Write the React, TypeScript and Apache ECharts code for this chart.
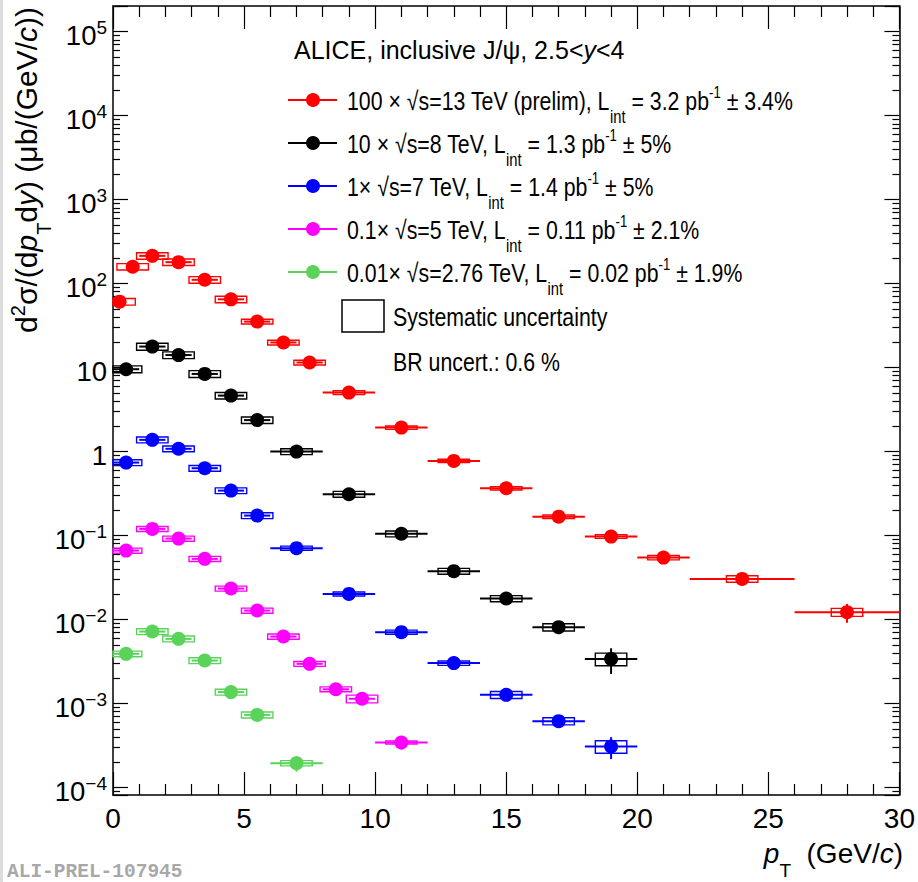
import React, { useEffect, useRef } from 'react';
import * as echarts from 'echarts';

const FONT = '"Liberation Sans", Arial, Helvetica, sans-serif';
const MONO = '"Liberation Mono", "DejaVu Sans Mono", monospace';

// ---------------- data ----------------
// 13 TeV (x100)
const redPt = [0.25, 0.75, 1.5, 2.5, 3.5, 4.5, 5.5, 6.5, 7.5, 9, 11, 13, 15, 17, 19, 21, 24, 28];
const redLo = [0, 0.5, 1, 2, 3, 4, 5, 6, 7, 8, 10, 12, 14, 16, 18, 20, 22, 26];
const redHi = [0.5, 1, 2, 3, 4, 5, 6, 7, 8, 10, 12, 14, 16, 18, 20, 22, 26, 30];
const redVal = [61, 159, 214, 180, 111, 65, 35.3, 19.9, 11.5, 5.04, 1.93, 0.774, 0.366, 0.168, 0.0973, 0.0547, 0.0305, 0.01225];
const redStat = [1.5, 3, 3, 2.5, 1.5, 0.9, 0.5, 0.3, 0.2, 0.08, 0.04, 0.02, 0.012, 0.007, 0.005, 0.0035, 0.0025, 0.0031];
const redSys = [5.5, 14, 19, 16, 10, 5.8, 2.3, 1.3, 0.75, 0.25, 0.09, 0.035, 0.017, 0.008, 0.0048, 0.0033, 0.0027, 0.00135];

// 8 TeV (x10)
const blackPt = [0.5, 1.5, 2.5, 3.5, 4.5, 5.5, 7, 9, 11, 13, 15, 17, 19];
const blackLo = [0, 1, 2, 3, 4, 5, 6, 8, 10, 12, 14, 16, 18];
const blackHi = [1, 2, 3, 4, 5, 6, 8, 10, 12, 14, 16, 18, 20];
const blackVal = [9.57, 17.8, 14.1, 8.41, 4.64, 2.37, 1.0, 0.311, 0.105, 0.0377, 0.0178, 0.00812, 0.0034];
const blackStat = [0.2, 0.3, 0.25, 0.15, 0.09, 0.05, 0.025, 0.009, 0.004, 0.002, 0.0012, 0.0007, 0.00115];
const blackSys = [0.9, 1.7, 1.3, 0.8, 0.42, 0.21, 0.08, 0.025, 0.0085, 0.003, 0.0015, 0.0008, 0.00058];

// 7 TeV (x1)
const bluePt = [0.5, 1.5, 2.5, 3.5, 4.5, 5.5, 7, 9, 11, 13, 15, 17, 19];
const blueLo = [0, 1, 2, 3, 4, 5, 6, 8, 10, 12, 14, 16, 18];
const blueHi = [1, 2, 3, 4, 5, 6, 8, 10, 12, 14, 16, 18, 20];
const blueVal = [0.74, 1.38, 1.08, 0.634, 0.343, 0.173, 0.0708, 0.0202, 0.00708, 0.00303, 0.00127, 0.000617, 0.000308];
const blueStat = [0.015, 0.025, 0.02, 0.013, 0.008, 0.005, 0.002, 0.0008, 0.0003, 0.00015, 0.00008, 0.00005, 0.00009];
const blueSys = [0.06, 0.11, 0.085, 0.05, 0.027, 0.014, 0.004, 0.0011, 0.0004, 0.00018, 0.00012, 0.00006, 0.000052];

// 5 TeV (x0.1)
const magPt = [0.5, 1.5, 2.5, 3.5, 4.5, 5.5, 6.5, 7.5, 8.5, 9.5, 11];
const magLo = [0, 1, 2, 3, 4, 5, 6, 7, 8, 9, 10];
const magHi = [1, 2, 3, 4, 5, 6, 7, 8, 9, 10, 12];
const magVal = [0.0663, 0.12, 0.0921, 0.0528, 0.0234, 0.0128, 0.00628, 0.00297, 0.00148, 0.00114, 0.000344];
const magStat = [0.002, 0.003, 0.0025, 0.0015, 0.0008, 0.0005, 0.0003, 0.00015, 0.0001, 0.0001, 0.00006];
const magSys = [0.0046, 0.0084, 0.0065, 0.0037, 0.0016, 0.0009, 0.00044, 0.0002, 0.0001, 0.00012, 0.000014];

// 2.76 TeV (x0.01)
const greenPt = [0.5, 1.5, 2.5, 3.5, 4.5, 5.5, 7];
const greenLo = [0, 1, 2, 3, 4, 5, 6];
const greenHi = [1, 2, 3, 4, 5, 6, 8];
const greenVal = [0.00391, 0.0072, 0.00589, 0.00325, 0.00137, 0.000733, 0.000195];
const greenStat = [0.0001, 0.00015, 0.00012, 0.00008, 0.00005, 0.00004, 0.00004];
const greenSys = [0.0003, 0.00058, 0.00047, 0.00026, 0.00011, 0.00006, 0.000014];

const seriesNames = ['13 TeV', '8 TeV', '7 TeV', '5 TeV', '2.76 TeV'];
const seriesColors = ['#ff0000', '#000000', '#0000ff', '#ff00ff', '#5ad35a'];

const legendLabels = [
  ['100 × √s=13 TeV (prelim), L', 'int', ' = 3.2 pb', '-1', ' ± 3.4%'],
  ['10 × √s=8 TeV, L', 'int', ' = 1.3 pb', '-1', ' ± 5%'],
  ['1× √s=7 TeV, L', 'int', ' = 1.4 pb', '-1', ' ± 5%'],
  ['0.1× √s=5 TeV, L', 'int', ' = 0.11 pb', '-1', ' ± 2.1%'],
  ['0.01× √s=2.76 TeV, L', 'int', ' = 0.02 pb', '-1', ' ± 1.9%'],
];

const xMin = 0;
const xMax = 30;
const xInterval = 5;
const yMin = 8.15e-5;
const yMax = 2.02e5;
const BOX_HALF = 0.6;

const datasets = [
  { pt: redPt, lo: redLo, hi: redHi, val: redVal, stat: redStat, sys: redSys },
  { pt: blackPt, lo: blackLo, hi: blackHi, val: blackVal, stat: blackStat, sys: blackSys },
  { pt: bluePt, lo: blueLo, hi: blueHi, val: blueVal, stat: blueStat, sys: blueSys },
  { pt: magPt, lo: magLo, hi: magHi, val: magVal, stat: magStat, sys: magSys },
  { pt: greenPt, lo: greenLo, hi: greenHi, val: greenVal, stat: greenStat, sys: greenSys },
];

// rich text style with glyph baseline at B px below the line top
function rs(fontSize: number, B: number, extra: any = {}) {
  const pad = Math.max(0, B - 0.8465 * fontSize);
  return {
    fontSize,
    lineHeight: fontSize,
    verticalAlign: 'top',
    padding: [pad, 0, 0, 0],
    fontFamily: FONT,
    ...extra,
  };
}

function makeRenderItem(color: string) {
  return (params: any, api: any) => {
    const x = api.value(0);
    const y = api.value(1);
    const lo = api.value(2);
    const hi = api.value(3);
    const st = api.value(4);
    const sy = api.value(5);
    const cs = params.coordSys;
    const pLo = api.coord([lo, y]);
    const pHi = api.coord([hi, y]);
    const pUp = api.coord([x, y + st]);
    const pDn = api.coord([x, y - st]);
    const bTL = api.coord([x - BOX_HALF, y + sy]);
    const bBR = api.coord([x + BOX_HALF, y - sy]);
    const rect = echarts.graphic.clipRectByRect(
      { x: bTL[0], y: bTL[1], width: bBR[0] - bTL[0], height: bBR[1] - bTL[1] },
      { x: cs.x, y: cs.y, width: cs.width, height: cs.height }
    );
    const children: any[] = [];
    if (rect) {
      children.push({
        type: 'rect',
        shape: rect,
        style: { fill: 'none', stroke: color, lineWidth: 1.4 },
      });
    }
    children.push({
      type: 'line',
      shape: { x1: Math.max(pLo[0], cs.x), y1: pLo[1], x2: Math.min(pHi[0], cs.x + cs.width), y2: pHi[1] },
      style: { stroke: color, lineWidth: 2 },
    });
    children.push({
      type: 'line',
      shape: { x1: pUp[0], y1: pUp[1], x2: pDn[0], y2: pDn[1] },
      style: { stroke: color, lineWidth: 2 },
    });
    return { type: 'group', children };
  };
}

function yLabel(v: number) {
  const l = Math.log10(v);
  const e = Math.round(l);
  if (Math.abs(l - e) > 1e-6) return '';
  if (e === 0) return '{m|1}';
  if (e === 1) return '{m|10}';
  return '{m|10}{s|' + (e < 0 ? '\u2212' + -e : String(e)) + '}';
}

function buildOption() {
  const axisLineStyle = { color: '#000', width: 1.5 };
  const tickStyle = { color: '#000', width: 1.2 };
  const xAxisBase = {
    type: 'value',
    min: xMin,
    max: xMax,
    interval: xInterval,
    axisLine: { show: true, onZero: false, lineStyle: axisLineStyle },
    axisTick: { show: true, inside: true, length: 23, lineStyle: tickStyle },
    minorTick: { show: true, splitNumber: 5, length: 11, lineStyle: tickStyle },
    splitLine: { show: false },
    minorSplitLine: { show: false },
  };
  const yAxisBase = {
    type: 'log',
    logBase: 10,
    min: yMin,
    max: yMax,
    splitNumber: 10,
    axisLine: { show: true, onZero: false, lineStyle: axisLineStyle },
    axisTick: { show: true, inside: true, length: 15, lineStyle: tickStyle },
    minorTick: { show: true, splitNumber: 9, length: 7, lineStyle: tickStyle },
    splitLine: { show: false },
    minorSplitLine: { show: false },
  };

  const series: any[] = [];
  datasets.forEach((d, i) => {
    series.push({
      type: 'custom',
      name: seriesNames[i],
      renderItem: makeRenderItem(seriesColors[i]),
      data: d.pt.map((x, j) => [x, d.val[j], d.lo[j], d.hi[j], d.stat[j], d.sys[j]]),
      encode: { x: 0, y: 1 },
      z: 2,
      silent: true,
    });
    series.push({
      type: 'scatter',
      name: seriesNames[i],
      data: d.pt.map((x, j) => [x, d.val[j]]),
      symbol: 'circle',
      symbolSize: 14,
      itemStyle: { color: seriesColors[i], opacity: 1 },
      z: 3,
      silent: true,
    });
  });

  const legendRich = {
    m: rs(26, 26, { fill: '#000' }),
    sub: rs(18, 39, { fill: '#000' }),
    sup: rs(16, 13.9, { fill: '#000' }),
  };

  const graphic: any[] = [
    { type: 'rect', left: 0, top: 0, shape: { x: 0, y: 0, width: 3, height: 882 }, style: { fill: '#dcdcdc' }, z: 0 },
    {
      type: 'text',
      x: 294,
      y: 50,
      style: {
        text: '{m|ALICE, inclusive J/ψ, 2.5<}{i|y}{m|<4}',
        rich: {
          m: { fontSize: 25, fontFamily: FONT, fill: '#000' },
          i: { fontSize: 25, fontFamily: FONT, fontStyle: 'italic', fill: '#000' },
        },
        verticalAlign: 'middle',
        align: 'left',
      },
    },
  ];

  const rowY = [100, 143, 186, 229, 272];
  legendLabels.forEach((parts, i) => {
    const cy = rowY[i];
    graphic.push({
      type: 'line',
      shape: { x1: 288, y1: cy, x2: 337, y2: cy },
      style: { stroke: seriesColors[i], lineWidth: 2 },
    });
    graphic.push({
      type: 'circle',
      shape: { cx: 313, cy, r: 7 },
      style: { fill: seriesColors[i] },
    });
    graphic.push({
      type: 'text',
      x: 347,
      y: cy + 0.5 - 16.7,
      scaleX: 0.82,
      style: {
        x: 0,
        y: 0,
        text: '{m|' + parts[0] + '}{sub|' + parts[1] + '}{m|' + parts[2] + '}{sup|' + parts[3] + '}{m|' + parts[4] + '}',
        rich: legendRich,
        align: 'left',
        verticalAlign: 'top',
      },
    });
  });

  graphic.push({
    type: 'rect',
    shape: { x: 342, y: 300, width: 42, height: 32 },
    style: { fill: 'none', stroke: '#000', lineWidth: 1.5 },
  });
  graphic.push({
    type: 'text',
    x: 393,
    y: 316.5,
    scaleX: 0.82,
    style: { x: 0, y: 0, text: 'Systematic uncertainty', fontSize: 26, fontFamily: FONT, fill: '#000', verticalAlign: 'middle', align: 'left' },
  });
  graphic.push({
    type: 'text',
    x: 393,
    y: 361.5,
    scaleX: 0.82,
    style: { x: 0, y: 0, text: 'BR uncert.: 0.6 %', fontSize: 26, fontFamily: FONT, fill: '#000', verticalAlign: 'middle', align: 'left' },
  });

  // x-axis title
  const xB = 24;
  graphic.push({
    type: 'text',
    x: 903,
    y: 863 - xB,
    style: {
      text: '{i|p}{sub|T}{m|  (GeV/}{i|c}{m|)}',
      rich: {
        m: rs(28, xB, { fill: '#000' }),
        i: rs(28, xB, { fill: '#000', fontStyle: 'italic' }),
        sub: rs(19, xB + 13.6, { fill: '#000' }),
      },
      align: 'right',
      verticalAlign: 'top',
    },
  });

  // y-axis title (rotated)
  const yB = 29.5;
  graphic.push({
    type: 'text',
    x: 37 - yB,
    y: 7,
    rotation: Math.PI / 2,
    style: {
      x: 0,
      y: 0,
      text: '{m|d}{sup|2}{m|σ/(d}{i|p}{sub|T}{m|d}{i|y}{m|) (μb/(GeV/}{i|c}{m|))}',
      rich: {
        m: rs(30, yB, { fill: '#000' }),
        i: rs(30, yB, { fill: '#000', fontStyle: 'italic' }),
        sup: rs(20, yB - 12.2, { fill: '#000' }),
        sub: rs(20, yB + 14.3, { fill: '#000' }),
      },
      align: 'right',
      verticalAlign: 'top',
    },
  });

  graphic.push({
    type: 'text',
    x: 7,
    y: 872,
    style: {
      text: 'ALI-PREL-107945',
      fontSize: 19.5,
      fontWeight: 'bold',
      fontFamily: MONO,
      fill: '#a8a8a8',
      verticalAlign: 'middle',
      align: 'left',
    },
  });

  return {
    animation: false,
    backgroundColor: '#ffffff',
    grid: { left: 113, top: 6, width: 790, height: 789, containLabel: false },
    xAxis: [
      {
        ...xAxisBase,
        position: 'bottom',
        axisLabel: { show: true, fontSize: 28, fontFamily: FONT, color: '#000', margin: 9 },
      },
      { ...xAxisBase, position: 'top', axisLabel: { show: false } },
    ],
    yAxis: [
      {
        ...yAxisBase,
        position: 'left',
        axisLabel: {
          show: true,
          margin: 6,
          formatter: yLabel,
          showMinLabel: false,
          showMaxLabel: false,
          rich: {
            m: { fontSize: 27.5, lineHeight: 27.5, fontFamily: FONT, color: '#000', verticalAlign: 'top', padding: [4, 0, 0, 0] },
            s: { fontSize: 19, lineHeight: 19, fontFamily: FONT, color: '#000', verticalAlign: 'top', padding: [0, 0, 0, 0] },
          },
        },
      },
      { ...yAxisBase, position: 'right', axisLabel: { show: false } },
    ],
    series,
    graphic,
  };
}

export default function App() {
  const ref = useRef<HTMLDivElement>(null);
  useEffect(() => {
    document.body.style.margin = '0';
    const chart = echarts.init(ref.current as HTMLDivElement, undefined, { renderer: 'svg' });
    chart.setOption(buildOption() as any);
    return () => chart.dispose();
  }, []);
  return <div ref={ref} style={{ position: 'absolute', left: 0, top: 0, width: 918, height: 882, background: '#fff' }} />;
}
